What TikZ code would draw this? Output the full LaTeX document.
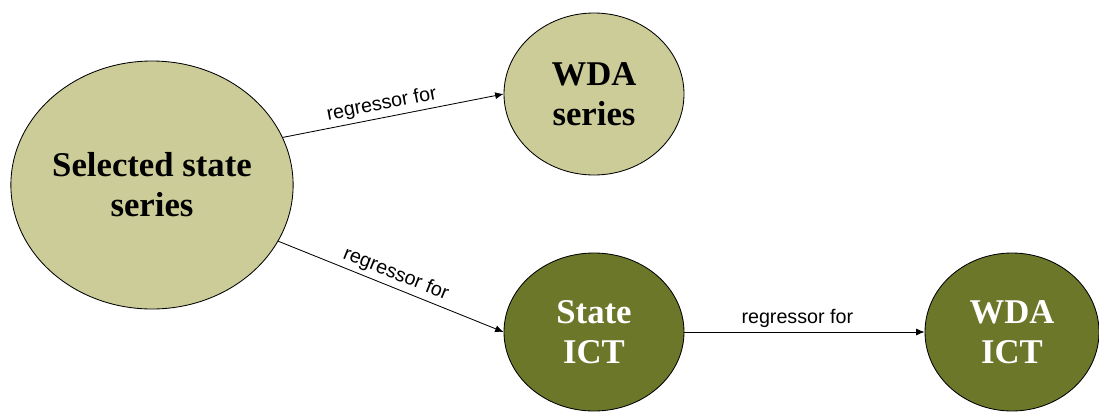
\documentclass[tikz,border=0pt]{standalone}
\usepackage{xcolor}
\usepackage{fontspec}
\setmainfont{Liberation Serif}
\newfontfamily\edgefont{Liberation Sans}
\usetikzlibrary{arrows.meta,shapes.geometric}

\definecolor{sage}{RGB}{204,204,153}
\definecolor{olive}{RGB}{108,119,42}

\tikzset{
    series/.style={ellipse, draw=black, line width=0.6pt, fill=sage, align=center,
        font=\bfseries\fontsize{24.7}{28.5}\selectfont, inner sep=0pt},
    ict/.style={series, fill=olive, text=white},
    regr/.style={-{Latex[length=6pt,width=5pt]}, line width=0.6pt},
    regrlabel/.style={font=\edgefont\fontsize{14}{16}\selectfont, inner sep=2.5pt}
}

\begin{document}
\begin{tikzpicture}
    \useasboundingbox (0,0) rectangle (27.475,-10.3);

    % series nodes
    \node[series, minimum width=6.85cm, minimum height=6.2cm] (sel) at (3.8,-4.625) {Selected state\\series};
    \node[series, minimum width=4.5cm, minimum height=4.05cm] (wdaser) at (14.85,-2.35) {WDA\\series};

    % ICT nodes
    \node[ict, minimum width=4.5cm, minimum height=3.95cm] (stict) at (14.85,-8.3) {State\\ICT};
    \node[ict, minimum width=4.35cm, minimum height=3.95cm] (wdaict) at (25.3,-8.3) {WDA\\ICT};

    % regressor links
    \draw[regr] (sel.20) -- node[regrlabel, sloped, above, pos=0.46] {regressor for} (wdaser.west);
    \draw[regr] (sel.-24) -- node[regrlabel, sloped, above, pos=0.5] {regressor for} (stict.west);
    \draw[regr] (stict.east) -- node[regrlabel, above, pos=0.47] {regressor for} (wdaict.west);

\end{tikzpicture}
\end{document}
